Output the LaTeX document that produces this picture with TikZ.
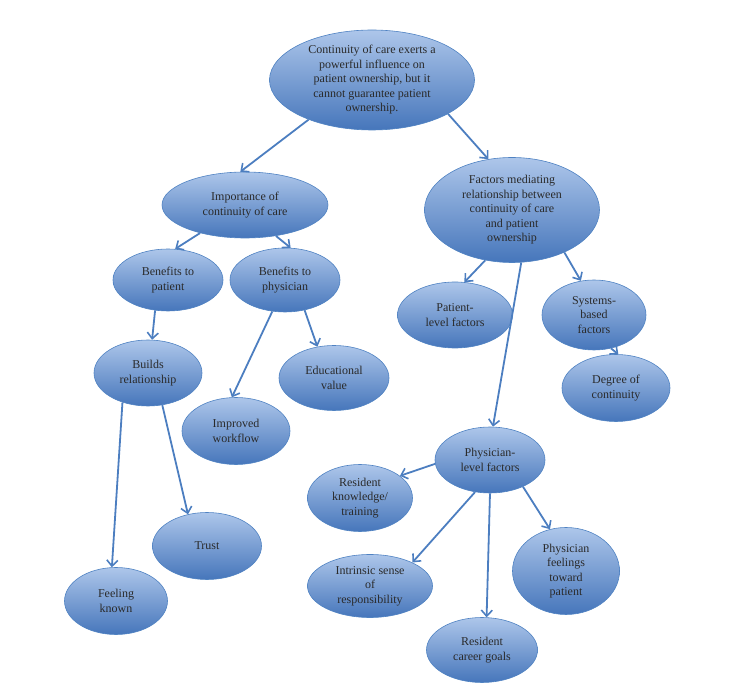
\documentclass[tikz,border=0pt]{standalone}
\usepackage{fontspec}
\setmainfont{Liberation Serif}
\usetikzlibrary{shapes.geometric,arrows.meta}
\definecolor{topc}{HTML}{ADC6EA}
\definecolor{botc}{HTML}{4676BB}
\definecolor{edgec}{HTML}{4F82C2}
\definecolor{arrc}{HTML}{4C7EC0}
\definecolor{txtc}{HTML}{2A2A2A}
\tikzset{
  bub/.style={ellipse, draw=edgec, line width=0.6pt, top color=topc, bottom color=botc,
    inner sep=0pt, align=center, text=txtc, font=\fontsize{12}{14.5}\selectfont},
  conn/.style={draw=arrc, line width=1.8pt, -{Straight Barb[length=6pt,width=11pt,line width=1.6pt]}}
}
\begin{document}
\begin{tikzpicture}[x=1pt,y=-1pt]
\useasboundingbox (0,0) rectangle (748,700);
\node[bub, minimum width=205, minimum height=100] (top) at (372,80) {Continuity of care exerts a\\powerful influence on\\patient ownership, but it\\cannot guarantee patient\\ownership.};
\node[bub, minimum width=166, minimum height=66] (imp) at (245,205) {Importance of\\continuity of care};
\node[bub, minimum width=175, minimum height=105] (fac) at (512,210) {Factors mediating\\relationship between\\continuity of care\\and patient\\ownership};
\node[bub, minimum width=110, minimum height=62] (bpat) at (168,280) {Benefits to\\patient};
\node[bub, minimum width=110, minimum height=64] (bphy) at (285,280) {Benefits to\\physician};
\node[bub, minimum width=115, minimum height=66] (plf) at (455,315) {Patient-\\level factors};
\node[bub, minimum width=104, minimum height=70] (sys) at (594,315) {Systems-\\based\\factors};
\node[bub, minimum width=108, minimum height=66] (bld) at (148,373) {Builds\\relationship};
\node[bub, minimum width=110, minimum height=65] (edu) at (334,378) {Educational\\value};
\node[bub, minimum width=108, minimum height=67] (deg) at (616,388) {Degree of\\continuity};
\node[bub, minimum width=108, minimum height=67] (wf) at (236,431) {Improved\\workflow};
\node[bub, minimum width=110, minimum height=66] (phl) at (490,460) {Physician-\\level factors};
\node[bub, minimum width=105, minimum height=67] (rk) at (360,498) {Resident\\knowledge/\\training};
\node[bub, minimum width=109, minimum height=67] (tr) at (207,546) {Trust};
\node[bub, minimum width=103, minimum height=67] (fk) at (116,601) {Feeling\\known};
\node[bub, minimum width=125, minimum height=63] (isr) at (370,586) {Intrinsic sense\\of\\responsibility};
\node[bub, minimum width=107, minimum height=87] (pft) at (566,571) {Physician\\feelings\\toward\\patient};
\node[bub, minimum width=111, minimum height=65] (rcg) at (482,650) {Resident\\career goals};

\draw[conn] (top.212) -- (imp.98);
\draw[conn] (top.336) -- (fac.115);
\draw[conn] (imp.212) -- (bpat.77);
\draw[conn] (imp.315) -- (bphy.80);
\draw[conn] (fac.242) -- (plf.74);
\draw[conn] (fac.321) -- (sys.111);
\draw[conn] (fac.280) -- (phl.85);
\draw[conn] (bpat.247) -- (bld.83);
\draw[conn] (bphy.248) -- (wf.97);
\draw[conn] (bphy.303) -- (edu.118);
\draw[conn] (sys.297) -- (deg.86);
\draw[conn] (bld.229) -- (fk.97);
\draw[conn] (bld.294) -- (tr.121);
\draw[conn] (phl.184) -- (rk.29);
\draw[conn] (phl.245) -- (isr.29);
\draw[conn] (phl.270) -- (rcg.82);
\draw[conn] (phl.321) -- (pft.111);
\end{tikzpicture}
\end{document}
